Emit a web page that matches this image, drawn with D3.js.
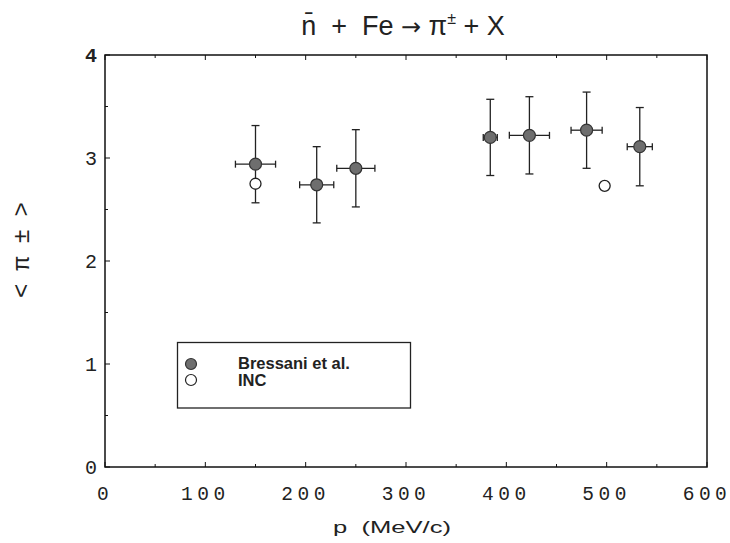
<!DOCTYPE html>
<html>
<head>
<meta charset="utf-8">
<script src="https://cdn.jsdelivr.net/npm/d3@7"></script>
<style>
  body { margin: 0; background: #fff; }
  svg { display: block; }
  text { white-space: pre; }
</style>
</head>
<body>
<script>
// Bressani et al. data, p in MeV/c
const pBressani = [150, 211, 250, 384, 423, 480, 533];
const pErr = [20, 17, 19, 7, 20, 15.5, 12.5];
const nBressani = [2.94, 2.74, 2.90, 3.20, 3.22, 3.27, 3.11];
const nErr = [0.375, 0.37, 0.375, 0.37, 0.375, 0.37, 0.38];
// INC calculation
const pInc = [150, 498];
const nInc = [2.75, 2.73];

const xTicks = [0, 100, 200, 300, 400, 500, 600];
const yTicks = [0, 1, 2, 3, 4];
const legendLabels = ["Bressani et al.", "INC"];

const w = 730, h = 543;
const m = {left: 105, right: 23, top: 55, bottom: 76};

const svg = d3.select("body").append("svg")
  .attr("width", w)
  .attr("height", h);

const x = d3.scaleLinear().domain([0, 600]).range([m.left, w - m.right]);
const y = d3.scaleLinear().domain([0, 4]).range([h - m.bottom, m.top]);

const mono = "'Liberation Mono', 'DejaVu Sans Mono', monospace";
const sans = "'Liberation Sans', Arial, sans-serif";

// frame
svg.append("rect")
  .attr("x", x(0)).attr("y", y(4))
  .attr("width", x(600) - x(0)).attr("height", y(0) - y(4))
  .attr("fill", "none").attr("stroke", "#111").attr("stroke-width", 1.5);

// ticks (inward)
const xMinor = d3.range(0, 601, 50);
const yMinor = d3.range(0, 4.01, 0.5);
const tk = svg.append("g").attr("stroke", "#111").attr("stroke-width", 1);
xMinor.forEach(v => {
  const len = v % 100 === 0 ? 5 : 3;
  tk.append("line").attr("x1", x(v)).attr("x2", x(v)).attr("y1", y(0)).attr("y2", y(0) - len);
  tk.append("line").attr("x1", x(v)).attr("x2", x(v)).attr("y1", y(4)).attr("y2", y(4) + len);
});
yMinor.forEach(v => {
  const len = v % 1 === 0 ? 5 : 3;
  tk.append("line").attr("x1", x(0)).attr("x2", x(0) + len).attr("y1", y(v)).attr("y2", y(v));
});

// tick labels
svg.append("g").selectAll("text")
  .data(xTicks).enter().append("text")
  .attr("x", d => x(d))
  .attr("y", y(0) + 33)
  .attr("text-anchor", "middle")
  .attr("font-family", mono)
  .attr("font-size", 19.5)
  .attr("letter-spacing", 4.5)
  .attr("fill", "#222")
  .text(d => d);

svg.append("g").selectAll("text")
  .data(yTicks).enter().append("text")
  .attr("x", x(0) - 8)
  .attr("y", d => y(d) + 7)
  .attr("text-anchor", "end")
  .attr("font-family", mono)
  .attr("font-size", 20)
  .attr("font-weight", d => d === 4 ? "bold" : "normal")
  .attr("fill", "#222")
  .text(d => d);

// axis titles
svg.append("text")
  .attr("x", 392).attr("y", 533)
  .attr("text-anchor", "middle")
  .attr("font-family", sans)
  .attr("font-size", 17)
  .attr("textLength", 118)
  .attr("lengthAdjust", "spacingAndGlyphs")
  .attr("fill", "#222")
  .text("p  (MeV/c)");

svg.append("text")
  .attr("transform", "translate(29,250) rotate(-90)")
  .attr("text-anchor", "middle")
  .attr("font-family", mono)
  .attr("font-size", 24)
  .attr("textLength", 96)
  .attr("lengthAdjust", "spacing")
  .attr("fill", "#222")
  .text("<π±>");

// title
const title = svg.append("text")
  .attr("x", 403).attr("y", 35)
  .attr("text-anchor", "middle")
  .attr("font-family", sans)
  .attr("font-size", 27)
  .attr("fill", "#222");
title.append("tspan").text("n\u0304  +  Fe ");
title.append("tspan").attr("font-family", "'DejaVu Sans', sans-serif").attr("font-size", 24).text("\u2192");
title.append("tspan").text(" \u03c0");
title.append("tspan").attr("font-size", 16).attr("dy", -11).text("\u00b1");
title.append("tspan").attr("dy", 11).text(" + X");

// error bars
const eb = svg.append("g").attr("stroke", "#222").attr("stroke-width", 1.3);
pBressani.forEach((p, i) => {
  const cx = x(p), cy = y(nBressani[i]);
  const y1 = y(nBressani[i] + nErr[i]), y2 = y(nBressani[i] - nErr[i]);
  const x1 = x(p - pErr[i]), x2 = x(p + pErr[i]);
  eb.append("line").attr("x1", cx).attr("x2", cx).attr("y1", y1).attr("y2", y2);
  eb.append("line").attr("x1", cx - 4).attr("x2", cx + 4).attr("y1", y1).attr("y2", y1);
  eb.append("line").attr("x1", cx - 4).attr("x2", cx + 4).attr("y1", y2).attr("y2", y2);
  eb.append("line").attr("x1", x1).attr("x2", x2).attr("y1", cy).attr("y2", cy);
  eb.append("line").attr("x1", x1).attr("x2", x1).attr("y1", cy - 3.5).attr("y2", cy + 3.5);
  eb.append("line").attr("x1", x2).attr("x2", x2).attr("y1", cy - 3.5).attr("y2", cy + 3.5);
});

// INC open circles
svg.append("g").selectAll("circle")
  .data(pInc).enter().append("circle")
  .attr("cx", d => x(d))
  .attr("cy", (d, i) => y(nInc[i]))
  .attr("r", 5.5)
  .attr("fill", "#fff")
  .attr("stroke", "#222")
  .attr("stroke-width", 1.3);

// Bressani filled circles
svg.append("g").selectAll("circle")
  .data(pBressani).enter().append("circle")
  .attr("cx", d => x(d))
  .attr("cy", (d, i) => y(nBressani[i]))
  .attr("r", 6)
  .attr("fill", "#6e6e6e")
  .attr("stroke", "#333")
  .attr("stroke-width", 1.2);

// legend
const lg = svg.append("g");
lg.append("rect")
  .attr("x", 177.5).attr("y", 342.5)
  .attr("width", 233).attr("height", 65.5)
  .attr("fill", "none").attr("stroke", "#222").attr("stroke-width", 1.3);
lg.append("circle").attr("cx", 191).attr("cy", 364).attr("r", 5.5)
  .attr("fill", "#6e6e6e").attr("stroke", "#333").attr("stroke-width", 1.2);
lg.append("circle").attr("cx", 191).attr("cy", 380).attr("r", 5.5)
  .attr("fill", "#fff").attr("stroke", "#222").attr("stroke-width", 1.2);
lg.selectAll("text")
  .data(legendLabels).enter().append("text")
  .attr("x", 238)
  .attr("y", (d, i) => 369 + i * 16.5)
  .attr("font-family", sans)
  .attr("font-size", 16.5)
  .attr("font-weight", "bold")
  .attr("fill", "#222")
  .text(d => d);
</script>
</body>
</html>
